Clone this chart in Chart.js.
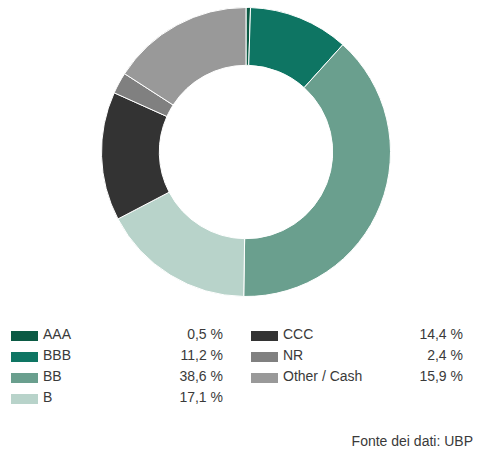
<!DOCTYPE html>
<html>
<head>
<meta charset="utf-8">
<script src="https://cdn.jsdelivr.net/npm/chart.js@4"></script>
<style>
  body { margin: 0; background: #fff; font-family: "Liberation Sans", Arial, sans-serif; color: #3a3a3a; }
  #wrap { position: relative; width: 486px; height: 455px; }
  #chartBox { position: absolute; left: 101px; top: 7px; width: 290px; height: 290px; }
  .row { position: absolute; height: 20px; font-size: 14px; line-height: 20px; }
  .sw { position: absolute; left: 0; top: 7px; width: 27px; height: 10px; }
  .lb { position: absolute; left: 32px; top: 0; white-space: nowrap; }
  .val { position: absolute; right: 0; top: 0; white-space: nowrap; }
  #source { position: absolute; right: 13px; top: 433px; font-size: 14px; }
</style>
</head>
<body>
<div id="wrap">
  <div id="chartBox"><canvas id="ratings"></canvas></div>
  <div id="legend"></div>
  <div id="source">Fonte dei dati: UBP</div>
</div>
<script>
const labels = ['AAA', 'BBB', 'BB', 'B', 'CCC', 'NR', 'Other / Cash'];
const shares = [0.5, 11.2, 38.6, 17.1, 14.4, 2.4, 15.9];
const colors = ['#0b5a44', '#0e7563', '#6a9f8e', '#b8d3ca', '#333333', '#808080', '#999999'];

new Chart(document.getElementById('ratings'), {
    type: 'doughnut',
    data: {
        labels: labels,
        datasets: [{
            data: shares,
            backgroundColor: colors,
            borderColor: '#ffffff',
            borderWidth: 1,
            hoverOffset: 0
        }]
    },
    options: {
        responsive: true,
        maintainAspectRatio: false,
        animation: false,
        cutout: '60%',
        layout: { padding: 0 },
        plugins: {
            legend: { display: false },
            tooltip: { enabled: false }
        }
    }
});

// legend in two columns, 4 rows in the first
const legend = document.getElementById('legend');
labels.forEach((label, i) => {
    const col = i < 4 ? 0 : 1;
    const row = i < 4 ? i : i - 4;
    const div = document.createElement('div');
    div.className = 'row';
    div.style.left = (11 + col * 240) + 'px';
    div.style.width = (212) + 'px';
    div.style.top = (324 + row * 21) + 'px';
    div.innerHTML = `<span class="sw" style="background:${colors[i]}"></span>` +
        `<span class="lb">${label}</span>` +
        `<span class="val">${shares[i].toFixed(1).replace('.', ',')} %</span>`;
    legend.appendChild(div);
});
</script>
</body>
</html>
